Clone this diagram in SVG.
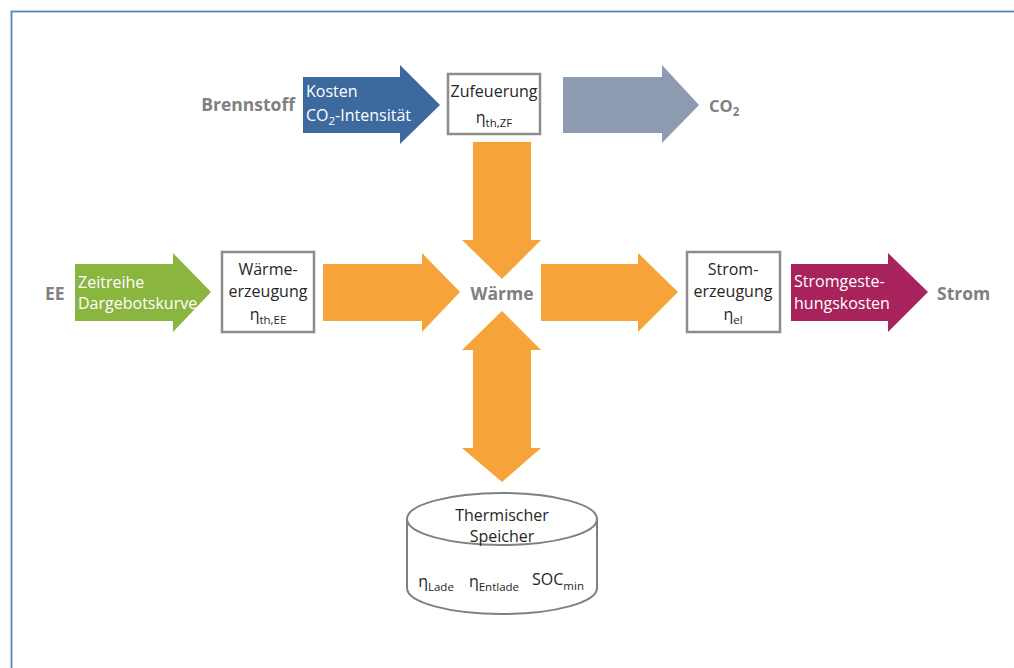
<svg xmlns="http://www.w3.org/2000/svg" width="1014" height="668" viewBox="0 0 1014 668">
<style>
text{font-family:"Open Sans","Liberation Sans",sans-serif;}
.lbl{font-size:16px;fill:#262626;text-anchor:middle;}
.wt{font-size:16px;fill:#ffffff;}
.big{font-size:17.5px;font-weight:bold;fill:#808080;}
.sub{font-size:11.5px;}
.box{fill:#ffffff;stroke:#8c8c8c;stroke-width:2.5;}
.or{fill:#f6a43a;}
</style>
<rect width="1014" height="668" fill="#ffffff"/>
<rect x="11.5" y="11.5" width="1020" height="680" fill="none" stroke="#5b86bb" stroke-width="1.8"/>

<g id="connectors">
  <path class="or" d="M473,142 H531 V240 H541 L502,279 L462,240 H473 Z"/>
  <path class="or" d="M502,311 L541,350 H531 V448 H541 L502,482 L462,448 H473 V350 H462 Z"/>
  <path class="or" d="M323,264 H422 V253 L460,292 L422,332 V321 H323 Z"/>
  <path class="or" d="M541,264 H638 V253 L678,292 L638,332 V321 H541 Z"/>
</g>

<g id="brennstoff">
  <text class="big" x="295" y="111" text-anchor="end">Brennstoff</text>
</g>
<g id="kosten-arrow">
  <path d="M303,77 H400 V65 L440,105 L400,144 V133 H303 Z" fill="#3d6a9e"/>
  <text class="wt" x="306" y="97">Kosten</text>
  <text class="wt" x="306" y="121">CO<tspan class="sub" dy="4">2</tspan><tspan dy="-4">-Intensität</tspan></text>
</g>
<g id="zufeuerung">
  <rect class="box" x="448" y="74" width="92" height="60"/>
  <text class="lbl" x="494" y="97">Zufeuerung</text>
  <text class="lbl" x="494" y="123"><tspan>η</tspan><tspan class="sub" dy="4">th,ZF</tspan></text>
</g>
<g id="co2-arrow">
  <path d="M563,77 H662 V65 L699,105 L662,143 V133 H563 Z" fill="#8e9aaf"/>
</g>
<g id="co2">
  <text x="709" y="112" style="font-size:16.5px;font-weight:bold;fill:#808080;">CO<tspan class="sub" dy="4">2</tspan></text>
</g>

<g id="ee">
  <text class="big" x="45" y="300">EE</text>
</g>
<g id="zeitreihe-arrow">
  <path d="M75,264 H173 V253 L211,292 L173,332 V321 H75 Z" fill="#8ab53f"/>
  <text class="wt" x="78" y="288">Zeitreihe</text>
  <text class="wt" x="78" y="309">Dargebotskurve</text>
</g>
<g id="waermeerzeugung">
  <rect class="box" x="222" y="252" width="92" height="80"/>
  <text class="lbl" x="268" y="275">Wärme-</text>
  <text class="lbl" x="268" y="297">erzeugung</text>
  <text class="lbl" x="268" y="320"><tspan>η</tspan><tspan class="sub" dy="4">th,EE</tspan></text>
</g>
<g id="waerme">
  <text class="big" x="502" y="300" text-anchor="middle">Wärme</text>
</g>
<g id="stromerzeugung">
  <rect class="box" x="687" y="252" width="93" height="80"/>
  <text class="lbl" x="733" y="275">Strom-</text>
  <text class="lbl" x="733" y="297">erzeugung</text>
  <text class="lbl" x="733" y="320"><tspan>η</tspan><tspan class="sub" dy="4">el</tspan></text>
</g>
<g id="stromkosten-arrow">
  <path d="M791,264 H888 V253 L928,292 L888,332 V321 H791 Z" fill="#a8225b"/>
  <text class="wt" x="794" y="287">Stromgeste-</text>
  <text class="wt" x="794" y="309">hungskosten</text>
</g>
<g id="strom">
  <text class="big" x="937" y="300">Strom</text>
</g>

<g id="speicher">
  <path d="M407,519 V588 A95,26 0 0 0 597,588 V519" fill="#ffffff" stroke="#808080" stroke-width="2"/>
  <ellipse cx="502" cy="519" rx="95" ry="26" fill="#ffffff" stroke="#808080" stroke-width="2"/>
  <text class="lbl" x="502" y="521">Thermischer</text>
  <text class="lbl" x="502" y="542">Speicher</text>
  <text class="lbl" x="436" y="587"><tspan>η</tspan><tspan class="sub" dy="4">Lade</tspan></text>
  <text class="lbl" x="494" y="587"><tspan>η</tspan><tspan class="sub" dy="4">Entlade</tspan></text>
  <text class="lbl" x="558" y="585"><tspan>SOC</tspan><tspan class="sub" dy="5">min</tspan></text>
</g>
</svg>
